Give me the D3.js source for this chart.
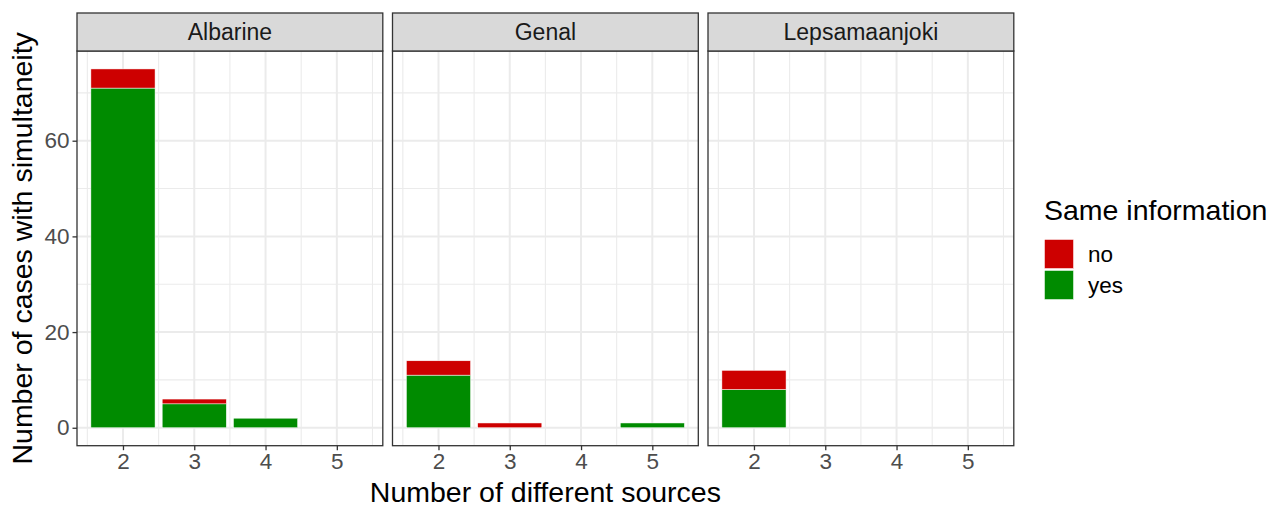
<!DOCTYPE html>
<html>
<head>
<meta charset="utf-8">
<title>Simultaneity by number of sources</title>
<script src="https://d3js.org/d3.v7.min.js"></script>
<style>
  body { margin: 0; background: #fff; }
  text { font-family: "Liberation Sans", Arial, sans-serif; }
</style>
</head>
<body>
<div id="chart"></div>
<script>
// data
var sites = ["Albarine", "Genal", "Lepsamaanjoki"];
var sources = [2, 3, 4, 5];
var yesCounts = [[71, 5, 2, 0], [11, 0, 0, 1], [8, 0, 0, 0]];
var noCounts = [[4, 1, 0, 0], [3, 1, 0, 0], [4, 0, 0, 0]];
var yTicks = [0, 20, 40, 60];
var legendKeys = ["no", "yes"];

var width = 1277, height = 507;
var colors = { no: "#CD0000", yes: "#008B00" };

var panelLeft = 77, panelW = 305.8, panelGap = 9.7;
var stripTop = 13, stripH = 38;
var plotTop = stripTop + stripH, plotBottom = 445.7;
var fontTick = 22.5, fontTitle = 28.5;

var svg = d3.select("#chart").append("svg")
  .attr("width", width)
  .attr("height", height);

// continuous x, bars 0.9 wide, 5% expansion
var x = d3.scaleLinear().domain([1.355, 5.645]).range([0, panelW]);
var y = d3.scaleLinear().domain([-3.75, 78.75]).range([plotBottom, plotTop]);

var stack = d3.stack().keys(["yes", "no"]);

sites.forEach(function(site, p) {
  var g = svg.append("g")
    .attr("transform", "translate(" + (panelLeft + p * (panelW + panelGap)) + ",0)");

  // grid
  var minorX = [1.5, 2.5, 3.5, 4.5, 5.5];
  var minorY = [10, 30, 50, 70];
  g.selectAll(".mx").data(minorX).enter().append("line")
    .attr("x1", d => x(d)).attr("x2", d => x(d))
    .attr("y1", plotTop).attr("y2", plotBottom)
    .attr("stroke", "#EBEBEB").attr("stroke-width", 1.1);
  g.selectAll(".my").data(minorY).enter().append("line")
    .attr("x1", 0).attr("x2", panelW)
    .attr("y1", d => y(d)).attr("y2", d => y(d))
    .attr("stroke", "#EBEBEB").attr("stroke-width", 1.1);
  g.selectAll(".gx").data(sources).enter().append("line")
    .attr("x1", d => x(d)).attr("x2", d => x(d))
    .attr("y1", plotTop).attr("y2", plotBottom)
    .attr("stroke", "#EBEBEB").attr("stroke-width", 2);
  g.selectAll(".gy").data(yTicks).enter().append("line")
    .attr("x1", 0).attr("x2", panelW)
    .attr("y1", d => y(d)).attr("y2", d => y(d))
    .attr("stroke", "#EBEBEB").attr("stroke-width", 2);

  // stacked bars
  var rows = sources.map(function(s, i) {
    return { source: s, yes: yesCounts[p][i], no: noCounts[p][i] };
  });
  var layers = stack(rows);
  layers.forEach(function(layer) {
    g.selectAll(".bar-" + layer.key).data(layer.filter(d => d[1] > d[0])).enter().append("rect")
      .attr("x", d => x(d.data.source - 0.45))
      .attr("width", d => x(d.data.source + 0.45) - x(d.data.source - 0.45))
      .attr("y", d => y(d[1]))
      .attr("height", d => y(d[0]) - y(d[1]))
      .attr("fill", colors[layer.key])
      .attr("stroke", "#fff")
      .attr("stroke-width", 0.5);
  });

  // panel border
  g.append("rect")
    .attr("x", 0).attr("y", plotTop)
    .attr("width", panelW).attr("height", plotBottom - plotTop)
    .attr("fill", "none").attr("stroke", "#333").attr("stroke-width", 1.3);

  // strip
  g.append("rect")
    .attr("x", 0).attr("y", stripTop)
    .attr("width", panelW).attr("height", stripH)
    .attr("fill", "#D9D9D9").attr("stroke", "#333").attr("stroke-width", 1.3);
  g.append("text")
    .attr("x", panelW / 2).attr("y", stripTop + stripH / 2 + 8)
    .attr("text-anchor", "middle")
    .attr("font-size", 23).attr("fill", "#1A1A1A")
    .text(site);

  // x axis
  var xa = g.append("g").attr("transform", "translate(0," + plotBottom + ")")
    .call(d3.axisBottom(x).tickValues(sources).tickFormat(d3.format("d")).tickSize(4.5).tickPadding(3));
  xa.select(".domain").remove();
  xa.selectAll("line").attr("stroke", "#333").attr("stroke-width", 1.3);
  xa.selectAll("text").attr("font-size", fontTick).attr("fill", "#4D4D4D")
    .style("font-family", "'Liberation Sans', Arial, sans-serif");

  if (p === 0) {
    var ya = g.append("g")
      .call(d3.axisLeft(y).tickValues(yTicks).tickSize(4.5).tickPadding(3));
    ya.select(".domain").remove();
    ya.selectAll("line").attr("stroke", "#333").attr("stroke-width", 1.3);
    ya.selectAll("text").attr("font-size", fontTick).attr("fill", "#4D4D4D")
      .style("font-family", "'Liberation Sans', Arial, sans-serif");
  }
});

// axis titles
var plotsRight = panelLeft + 3 * panelW + 2 * panelGap;
svg.append("text")
  .attr("x", (panelLeft + plotsRight) / 2).attr("y", 502)
  .attr("text-anchor", "middle")
  .attr("font-size", fontTitle).attr("fill", "#000")
  .text("Number of different sources");
svg.append("text")
  .attr("transform", "translate(32," + ((plotTop + plotBottom) / 2) + ") rotate(-90)")
  .attr("text-anchor", "middle")
  .attr("font-size", fontTitle).attr("fill", "#000")
  .text("Number of cases with simultaneity");

// legend
var lg = svg.append("g").attr("transform", "translate(1044,0)");
lg.append("text")
  .attr("x", 0).attr("y", 220)
  .attr("font-size", fontTitle).attr("fill", "#000")
  .text("Same information");
legendKeys.forEach(function(k, i) {
  lg.append("rect")
    .attr("x", 0.5).attr("y", 239.5 + i * 31)
    .attr("width", 29).attr("height", 29)
    .attr("fill", colors[k]).attr("stroke", "#fff").attr("stroke-width", 0.5);
  lg.append("text")
    .attr("x", 44).attr("y", 261.5 + i * 31)
    .attr("font-size", fontTick).attr("fill", "#000")
    .text(k);
});
</script>
</body>
</html>
